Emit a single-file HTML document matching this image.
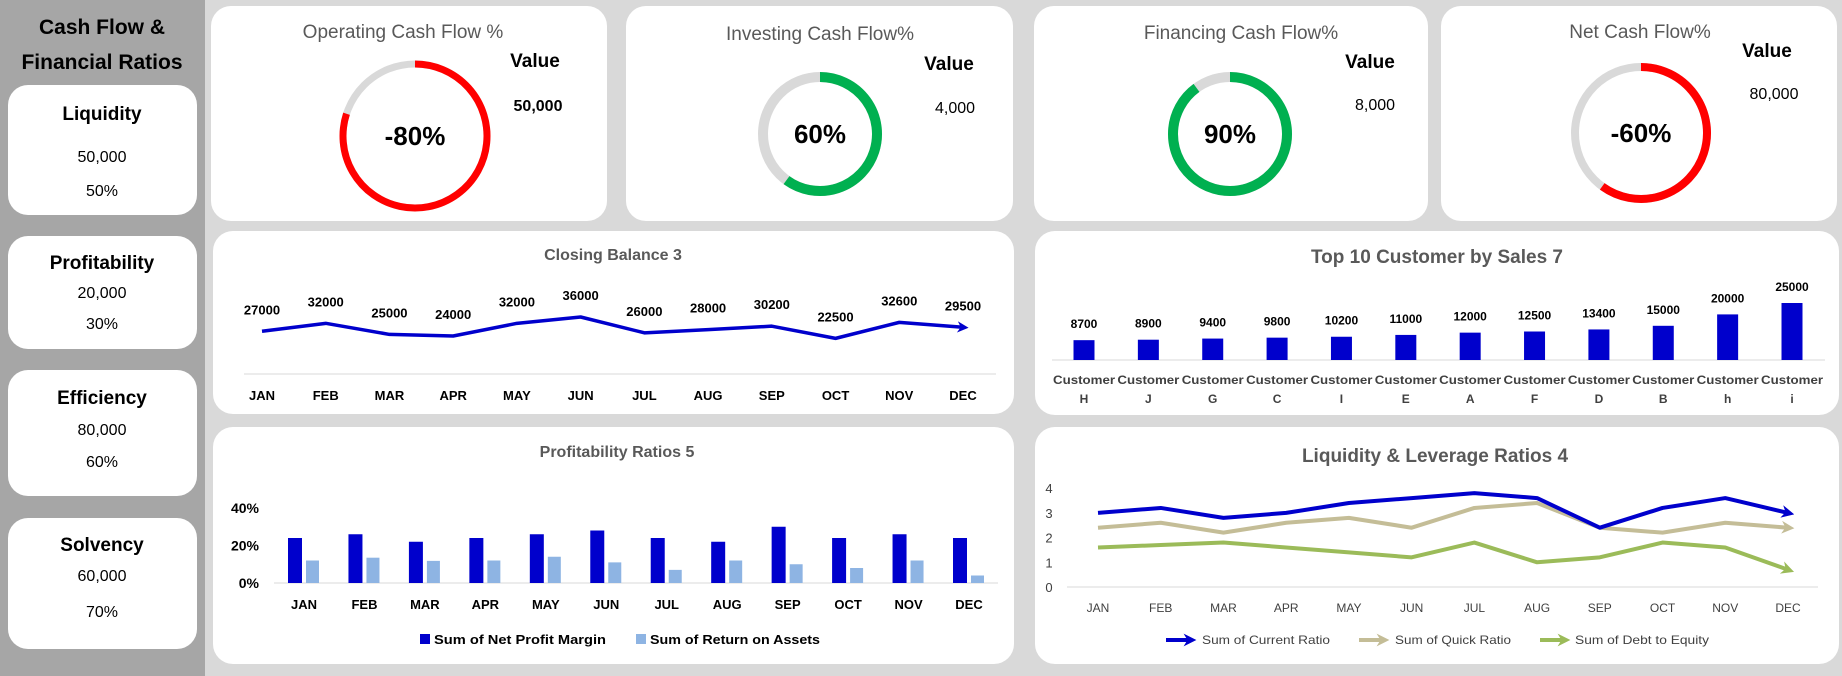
<!DOCTYPE html>
<html><head><meta charset="utf-8"><style>
html,body{margin:0;padding:0;background:#d9d9d9}
svg{display:block}
text{font-family:"Liberation Sans",sans-serif}
</style></head><body>
<svg id="s" width="1842" height="676" viewBox="0 0 1842 676" xmlns="http://www.w3.org/2000/svg">
<rect x="0" y="0" width="1842" height="676" fill="#d9d9d9"/>
<rect x="0" y="0" width="205" height="676" fill="#a6a6a6"/>
<text x="102" y="34" text-anchor="middle" font-size="21" font-weight="bold" fill="#000">Cash Flow &amp;</text>
<text x="102" y="69" text-anchor="middle" font-size="21" font-weight="bold" fill="#000">Financial Ratios</text>
<g id="side"></g>
<g id="kpis"></g>
<g id="charts"></g>
</svg>
<script>
const NS='http://www.w3.org/2000/svg';
const svg=document.getElementById('s');
function mk(tag,attrs,parent,txt){const e=document.createElementNS(NS,tag);for(const k in attrs)e.setAttribute(k,attrs[k]);if(txt!==undefined)e.textContent=txt;(parent||svg).appendChild(e);return e;}

// ---------- data ----------
const sideTitles=['Liquidity','Profitability','Efficiency','Solvency'];
const sideValues=['50,000','20,000','80,000','60,000'];
const sidePcts=['50%','30%','60%','70%'];

const kpiTitles=['Operating Cash Flow %','Investing Cash Flow%','Financing Cash Flow%','Net Cash Flow%'];
const kpiPcts=[-80,60,90,-60];
const kpiValues=['50,000','4,000','8,000','80,000'];

const months=['JAN','FEB','MAR','APR','MAY','JUN','JUL','AUG','SEP','OCT','NOV','DEC'];
const closingBalance=[27000,32000,25000,24000,32000,36000,26000,28000,30200,22500,32600,29500];

const customers=['H','J','G','C','I','E','A','F','D','B','h','i'];
const customerSales=[8700,8900,9400,9800,10200,11000,12000,12500,13400,15000,20000,25000];

const netProfitMargin=[24,26,22,24,26,28,24,22,30,24,26,24];
const returnOnAssets=[12,13.5,11.8,12,14,11,7,12,10,8,12,4];
const pctTicks=[0,20,40];

const currentRatio=[3.0,3.2,2.8,3.0,3.4,3.6,3.8,3.6,2.4,3.2,3.6,3.0];
const quickRatio=[2.4,2.6,2.2,2.6,2.8,2.4,3.2,3.4,2.4,2.2,2.6,2.4];
const debtToEquity=[1.6,1.7,1.8,1.6,1.4,1.2,1.8,1.0,1.2,1.8,1.6,0.7];
const ratioTicks=[0,1,2,3,4];

// ---------- sidebar cards ----------
const sideG=document.getElementById('side');
const sideBoxes=[[85,215],[236,349],[370,496],[518,649]];
const sideOffs=[[35,77,111],[33,62,93],[34,65,97],[33,63,99]];
sideTitles.forEach((t,i)=>{
  const [y0,y1]=sideBoxes[i];const o=sideOffs[i];
  const r=mk('rect',{x:8,y:y0,width:189,height:y1-y0,rx:20,fill:'#fff'},sideG);
  
  
  const a=mk('text',{x:102,y:y0+o[0],'text-anchor':'middle','font-size':19,'font-weight':'bold',fill:'#000'},sideG,t);
  
  
  const b=mk('text',{x:102,y:y0+o[1],'text-anchor':'middle','font-size':16,fill:'#000'},sideG,sideValues[i]);
  
  
  const c=mk('text',{x:102,y:y0+o[2],'text-anchor':'middle','font-size':16,fill:'#000'},sideG,sidePcts[i]);
  
  
});

// ---------- KPI donut cards ----------
const kg=document.getElementById('kpis');
const kpiBoxes=[[211,607],[626,1013],[1034,1428],[1441,1837]];
const kpiCenters=[[415,136,72,7],[820,134,57,10],[1230,134,57,10],[1641,133,66,8]];
const kpiTitlePos=[[403,38],[820,40],[1241,39],[1640,38]];
const kpiValPos=[[535,67,538,111],[949,70,955,113],[1370,68,1375,110],[1767,57,1774,99]];
kpiTitles.forEach((t,i)=>{
  const [x0,x1]=kpiBoxes[i];
  const r=mk('rect',{x:x0,y:6,width:x1-x0,height:215,rx:20,fill:'#fff'},kg);
  
  
  const tt=mk('text',{x:kpiTitlePos[i][0],y:kpiTitlePos[i][1],'text-anchor':'middle','font-size':19,fill:'#595959'},kg,t);
  
  
  const [cx,cy,rr,w]=kpiCenters[i];
  const bg=mk('circle',{cx:cx,cy:cy,r:rr,fill:'none',stroke:'#d9d9d9','stroke-width':w},kg);
  
  
  const p=Math.abs(kpiPcts[i])/100;const col=kpiPcts[i]<0?'#ff0000':'#00b050';
  const ang=p*2*Math.PI;const ex=cx+rr*Math.sin(ang),ey=cy-rr*Math.cos(ang);
  const arc=mk('path',{d:`M${cx},${cy-rr} A${rr},${rr} 0 ${p>0.5?1:0} 1 ${ex},${ey}`,fill:'none',stroke:col,'stroke-width':w},kg);
  
  
  const ct=mk('text',{x:cx,y:cy+9,'text-anchor':'middle','font-size':26,'font-weight':'bold',fill:'#000'},kg,kpiPcts[i]+'%');
  
  
  const v=kpiValPos[i];
  const vl=mk('text',{x:v[0],y:v[1],'text-anchor':'middle','font-size':19,'font-weight':'bold',fill:'#000'},kg,'Value');
  
  
  const vv=mk('text',{x:v[2],y:v[3],'text-anchor':'middle','font-size':16,'font-weight':i==0?'bold':'normal',fill:'#000'},kg,kpiValues[i]);
  
  
});

// ---------- chart cards ----------
const cg=document.getElementById('charts');
function card(x,y,w,h,name){const r=mk('rect',{x:x,y:y,width:w,height:h,rx:20,fill:'#fff'},cg);
  
  }
function title(x,y,t,size,name){const e=mk('text',{x:x,y:y,'text-anchor':'middle','font-size':size,'font-weight':'bold',fill:'#595959'},cg,t);
  
  }
const defs=mk('defs',{},svg);
function marker(id,col){const m=mk('marker',{id:id,viewBox:'0 0 10 10',refX:5,refY:5,markerWidth:3.2,markerHeight:3.2,orient:'auto',markerUnits:'strokeWidth'},defs);
  mk('path',{d:'M0,0 L10,5 L0,10 L3,5 Z',fill:col},m);}
marker('mBlue','#0000cc');marker('mTan','#c4bd97');marker('mGreen','#9bbb59');

// Closing balance
card(213,231,801,183,'closing-balance-card');
title(613,260,'Closing Balance 3',16,'closing-balance-title');
{
  const xC=i=>262+i*(963-262)/11;
  const yC=v=>374-v*57/36000;
  const ax=mk('line',{x1:244,y1:374,x2:996,y2:374,stroke:'#d9d9d9','stroke-width':1},cg);
  
  
  const pts=closingBalance.map((v,i)=>xC(i)+','+yC(v)).join(' ');
  const pl=mk('polyline',{points:pts,fill:'none',stroke:'#0000cc','stroke-width':3.5,'stroke-linejoin':'round','marker-end':'url(#mBlue)'},cg);
  
  
  closingBalance.forEach((v,i)=>{
    const l=mk('text',{x:xC(i),y:yC(v)-17,'text-anchor':'middle','font-size':13,'font-weight':'bold',fill:'#000'},cg,String(v));
    
    
  });
  months.forEach((m,i)=>{
    const l=mk('text',{x:xC(i),y:400,'text-anchor':'middle','font-size':13,'font-weight':'bold',fill:'#000'},cg,m);
    
    
  });
}

// Top 10 customers
card(1035,231,804,184,'top-customers-card');
title(1437,263,'Top 10 Customer by Sales 7',19,'top-customers-title');
{
  const xC=i=>1084+i*(1792-1084)/11;
  const yC=v=>360-v*57/25000;
  const ax=mk('line',{x1:1052,y1:360,x2:1825,y2:360,stroke:'#d9d9d9','stroke-width':1},cg);
  
  
  customerSales.forEach((v,i)=>{
    const b=mk('rect',{x:xC(i)-10.5,y:yC(v),width:21,height:360-yC(v),fill:'#0000cc'},cg);
    
    
    const l=mk('text',{x:xC(i),y:yC(v)-12,'text-anchor':'middle','font-size':12,'font-weight':'bold',fill:'#000'},cg,String(v));
    
    
    const c1=mk('text',{x:xC(i),y:384,'text-anchor':'middle','font-size':12,'font-weight':'bold',fill:'#404040',textLength:62,lengthAdjust:'spacingAndGlyphs'},cg,'Customer');
    
    
    const c2=mk('text',{x:xC(i),y:403,'text-anchor':'middle','font-size':12,'font-weight':'bold',fill:'#404040'},cg,customers[i]);
    
    
  });
}

// Profitability ratios
card(213,427,801,237,'profitability-ratios-card');
title(617,457,'Profitability Ratios 5',16,'profitability-ratios-title');
{
  const xC=i=>304+i*(969-304)/11;
  const yC=v=>583-v*75/40;
  const ax=mk('line',{x1:274,y1:583,x2:998,y2:583,stroke:'#d9d9d9','stroke-width':1},cg);
  
  
  pctTicks.forEach(t=>{
    const l=mk('text',{x:259,y:yC(t)+5,'text-anchor':'end','font-size':14,'font-weight':'bold',fill:'#000'},cg,t+'%');
    
    
  });
  months.forEach((m,i)=>{
    const b1=mk('rect',{x:xC(i)-16,y:yC(netProfitMargin[i]),width:14,height:583-yC(netProfitMargin[i]),fill:'#0000cc'},cg);
    
    
    const b2=mk('rect',{x:xC(i)+2,y:yC(returnOnAssets[i]),width:13,height:583-yC(returnOnAssets[i]),fill:'#8eb4e3'},cg);
    
    
    const l=mk('text',{x:xC(i),y:609,'text-anchor':'middle','font-size':13,'font-weight':'bold',fill:'#000'},cg,m);
    
    
  });
  const s1=mk('rect',{x:420,y:634,width:10,height:10,fill:'#0000cc'},cg);
  
  
  const t1=mk('text',{x:434,y:644,'font-size':13,'font-weight':'bold',fill:'#000',textLength:172,lengthAdjust:'spacingAndGlyphs'},cg,'Sum of Net Profit Margin');
  
  
  const s2=mk('rect',{x:636,y:634,width:10,height:10,fill:'#8eb4e3'},cg);
  
  
  const t2=mk('text',{x:650,y:644,'font-size':13,'font-weight':'bold',fill:'#000',textLength:170,lengthAdjust:'spacingAndGlyphs'},cg,'Sum of Return on Assets');
  
  
}

// Liquidity & leverage
card(1035,427,804,237,'liquidity-leverage-card');
title(1435,462,'Liquidity & Leverage Ratios 4',19,'liquidity-leverage-title');
{
  const xC=i=>1098+i*(1788-1098)/11;
  const yC=v=>587-v*24.7;
  const ax=mk('line',{x1:1067,y1:587,x2:1818,y2:587,stroke:'#d9d9d9','stroke-width':1},cg);
  
  
  ratioTicks.forEach(t=>{
    const l=mk('text',{x:1049,y:yC(t)+5,'text-anchor':'middle','font-size':13,fill:'#404040'},cg,String(t));
    
    
  });
  months.forEach((m,i)=>{
    const l=mk('text',{x:xC(i),y:612,'text-anchor':'middle','font-size':12,fill:'#404040'},cg,m);
    
    
  });
  const series=[[debtToEquity,'#9bbb59','mGreen','debt-to-equity-line'],[quickRatio,'#c4bd97','mTan','quick-ratio-line'],[currentRatio,'#0000cc','mBlue','current-ratio-line']];
  series.forEach(s=>{
    const pl=mk('polyline',{points:s[0].map((v,i)=>xC(i)+','+yC(v)).join(' '),fill:'none',stroke:s[1],'stroke-width':4,'stroke-linejoin':'round','marker-end':'url(#'+s[2]+')'},cg);
    
    
  });
  const leg=[[1166,1202,'#0000cc','mBlue','Sum of Current Ratio',128],[1359,1395,'#c4bd97','mTan','Sum of Quick Ratio',116],[1540,1575,'#9bbb59','mGreen','Sum of Debt to Equity',134]];
  leg.forEach(l=>{
    const ln=mk('line',{x1:l[0],y1:640,x2:l[0]+24,y2:640,stroke:l[2],'stroke-width':4,'marker-end':'url(#'+l[3]+')'},cg);
    
    
    const t=mk('text',{x:l[1],y:644,'font-size':12,fill:'#404040',textLength:l[5],lengthAdjust:'spacingAndGlyphs'},cg,l[4]);
    
    
  });
}
</script>
</body></html>
